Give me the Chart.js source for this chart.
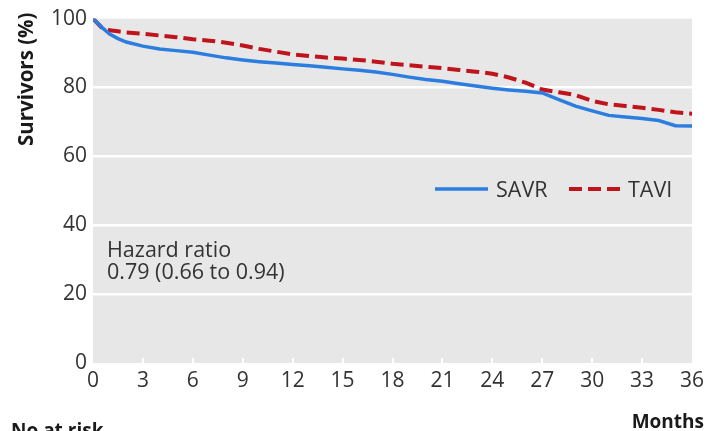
<!DOCTYPE html>
<html>
<head>
<meta charset="utf-8">
<script src="https://cdn.jsdelivr.net/npm/chart.js@4/dist/chart.umd.min.js"></script>
<style>
  html, body { margin: 0; padding: 0; background: #ffffff; }
  #wrap { width: 710px; height: 431px; position: relative; }
</style>
</head>
<body>
<div id="wrap"><canvas id="c" width="710" height="431"></canvas></div>
<script>
// Kaplan-Meier survival, SAVR vs TAVI
const months = [0, 0.5, 1, 1.5, 2, 3, 4, 5, 6, 7, 8, 9, 10, 11, 12, 13, 14, 15, 16, 17, 18,
                19, 20, 21, 22, 23, 24, 25, 26, 27, 28, 29, 30, 31, 32, 33, 34, 35, 36];
const savr = [100, 97.6, 95.5, 94.2, 93.2, 92.0, 91.2, 90.7, 90.2, 89.4, 88.6, 88.0, 87.5, 87.1,
              86.7, 86.3, 85.9, 85.4, 85.0, 84.5, 83.8, 83.0, 82.3, 81.8, 81.1, 80.4, 79.8, 79.3,
              78.9, 78.4, 76.5, 74.6, 73.2, 71.9, 71.4, 71.0, 70.4, 68.9, 68.8];
const tavi = [100, 97.5, 96.6, 96.3, 96.0, 95.6, 95.1, 94.6, 94.0, 93.6, 93.0, 92.2, 91.2, 90.4,
              89.6, 89.1, 88.7, 88.4, 88.0, 87.5, 86.9, 86.5, 86.0, 85.6, 85.1, 84.6, 84.0, 82.9,
              81.4, 79.4, 78.6, 77.8, 76.1, 75.1, 74.6, 74.1, 73.5, 72.8, 72.4];
const seriesNames = ['SAVR', 'TAVI'];
const xTicks = [0, 3, 6, 9, 12, 15, 18, 21, 24, 27, 30, 33, 36];
const yTicks = [0, 20, 40, 60, 80, 100];
const hazardText = ['Hazard ratio', '0.79 (0.66 to 0.94)'];

const FONT = '"Open Sans", "DejaVu Sans", sans-serif';
const TXT = '#333333';

const toPoints = (vals) => months.map((m, i) => ({ x: m, y: vals[i] }));

// grey panel behind the plot plus small white x tick marks
const panel = {
  id: 'panel',
  beforeDraw(chart) {
    const { ctx, chartArea: a } = chart;
    ctx.save();
    ctx.fillStyle = '#e7e7e7';
    ctx.fillRect(a.left, a.top, a.right - a.left, a.bottom - a.top);
    ctx.restore();
  },
  beforeDatasetsDraw(chart) {
    const { ctx, chartArea: a, scales } = chart;
    ctx.save();
    ctx.strokeStyle = '#ffffff';
    ctx.lineWidth = 2;
    xTicks.slice(1, -1).forEach(v => {
      const px = Math.round(scales.x.getPixelForValue(v));
      ctx.beginPath();
      ctx.moveTo(px, a.bottom);
      ctx.lineTo(px, a.bottom - 5);
      ctx.stroke();
    });
    ctx.restore();
  }
};

// legend, hazard ratio note and axis titles
const annotations = {
  id: 'annotations',
  afterDatasetsDraw(chart) {
    const { ctx, scales } = chart;
    const ds = chart.data.datasets;
    ctx.save();
    ctx.textBaseline = 'alphabetic';

    // legend
    const ly = scales.y.getPixelForValue(50.5);
    const items = [{ x0: 435, x1: 488, tx: 496 }, { x0: 569, x1: 623, tx: 628 }];
    ds.forEach((d, i) => {
      const it = items[i];
      ctx.strokeStyle = d.borderColor;
      ctx.lineWidth = d.borderWidth;
      ctx.setLineDash(d.borderDash || []);
      ctx.beginPath();
      ctx.moveTo(it.x0, ly);
      ctx.lineTo(it.x1, ly);
      ctx.stroke();
      ctx.setLineDash([]);
      ctx.fillStyle = TXT;
      ctx.font = '21.5px ' + FONT;
      ctx.textAlign = 'left';
      ctx.fillText(d.label, it.tx, ly + 8);
    });

    // hazard ratio
    ctx.fillStyle = TXT;
    ctx.font = '21.5px ' + FONT;
    ctx.textAlign = 'left';
    ctx.fillText(hazardText[0], 107, 257);
    ctx.fillText(hazardText[1], 107, 279);

    // axis titles
    ctx.fillStyle = '#1a1a1a';
    ctx.font = 'bold 19px ' + FONT;
    ctx.textAlign = 'right';
    ctx.fillText('Months', 704, 428);
    ctx.textAlign = 'left';
    ctx.fillText('No at risk', 11, 437);

    ctx.font = 'bold 20.5px ' + FONT;
    ctx.translate(33, 146);
    ctx.rotate(-Math.PI / 2);
    ctx.textAlign = 'left';
    ctx.fillText('Survivors (%)', 0, 0);
    ctx.restore();
  }
};

new Chart(document.getElementById('c'), {
  type: 'line',
  data: {
    datasets: [
      {
        label: seriesNames[0],
        data: toPoints(savr),
        borderColor: '#2b7de0',
        borderWidth: 3.5,
        pointRadius: 0,
        tension: 0,
        fill: false
      },
      {
        label: seriesNames[1],
        data: toPoints(tavi),
        borderColor: '#c0141c',
        borderWidth: 4,
        borderDash: [13, 6],
        pointRadius: 0,
        tension: 0,
        fill: false
      }
    ]
  },
  options: {
    responsive: false,
    animation: false,
    layout: { padding: { left: 0, top: 17, right: 18, bottom: 0 } },
    plugins: { legend: { display: false }, tooltip: { enabled: false } },
    scales: {
      x: {
        type: 'linear',
        min: 0,
        max: 36,
        afterBuildTicks(scale) { scale.ticks = xTicks.map(v => ({ value: v })); },
        afterFit(scale) { scale.height = 68; },
        grid: { display: false, drawTicks: false },
        border: { display: false },
        ticks: { color: TXT, font: { family: FONT, size: 21 }, padding: 5, maxRotation: 0, autoSkip: false }
      },
      y: {
        min: 0,
        max: 100,
        afterBuildTicks(scale) { scale.ticks = yTicks.map(v => ({ value: v })); },
        afterFit(scale) { scale.width = 93; },
        grid: {
          drawTicks: false,
          lineWidth: 2.5,
          color: (c) => (c.tick && c.tick.value > 0 && c.tick.value < 100) ? '#ffffff' : 'rgba(0,0,0,0)'
        },
        border: { display: false },
        ticks: { color: TXT, font: { family: FONT, size: 21 }, padding: 6 }
      }
    }
  },
  plugins: [panel, annotations]
});
</script>
</body>
</html>
